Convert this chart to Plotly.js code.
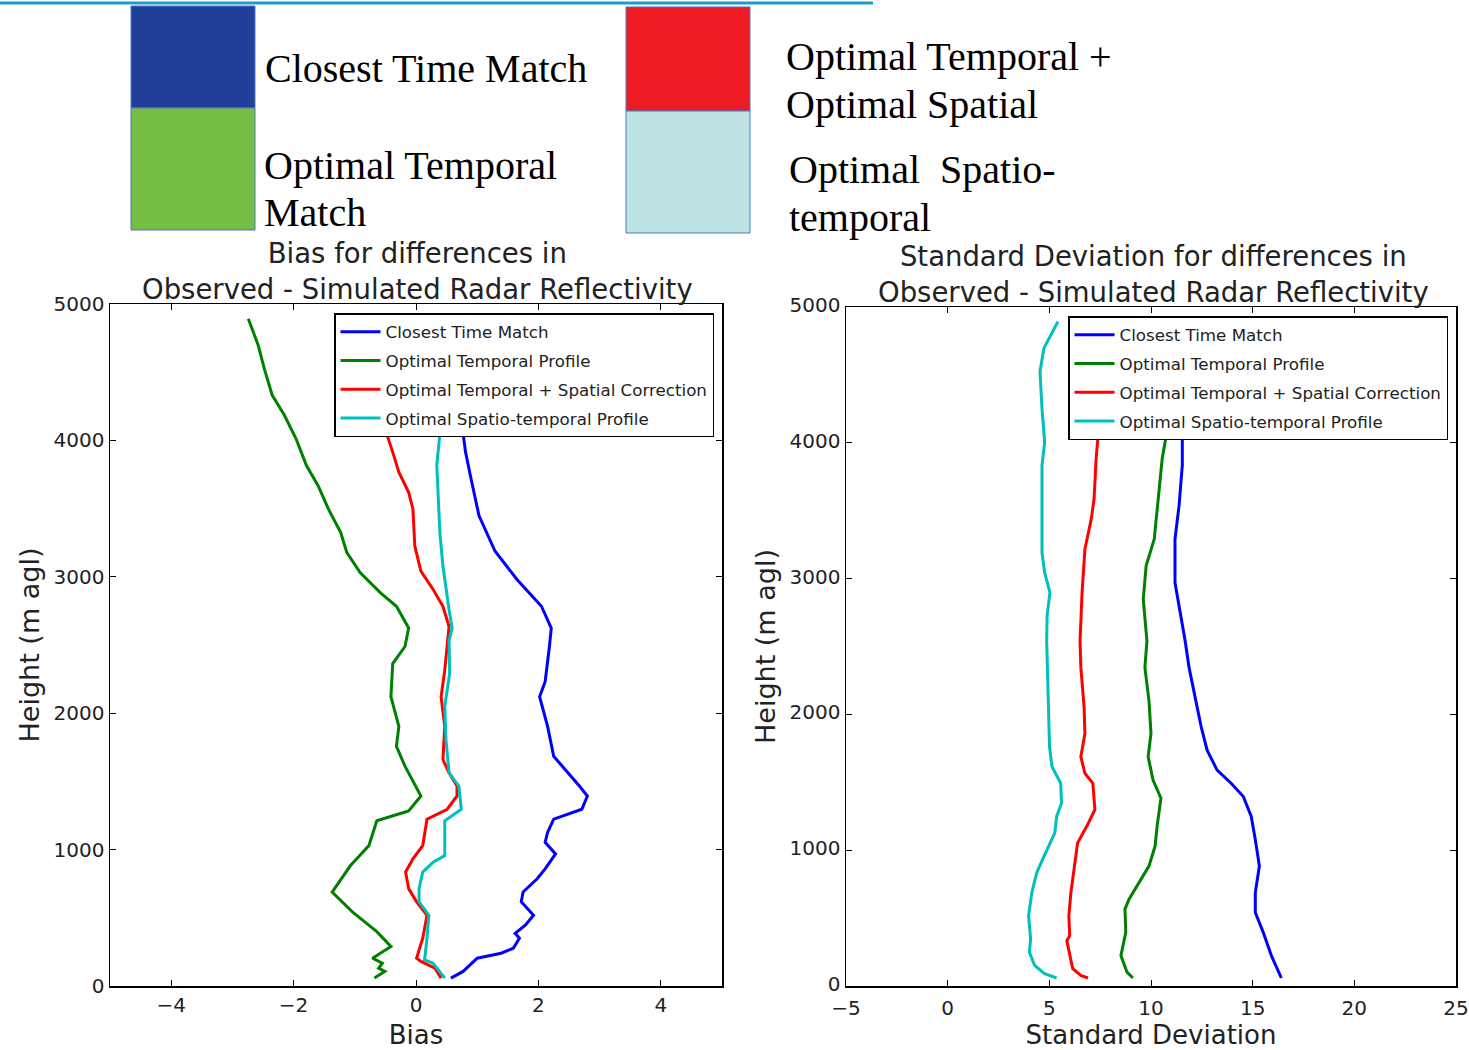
<!DOCTYPE html>
<html>
<head>
<meta charset="utf-8">
<script src="https://cdn.plot.ly/plotly-3.0.1.min.js"></script>
<style>html,body{margin:0;padding:0;background:#fff;}#chart{width:1469px;height:1050px;}</style>
</head>
<body>
<div id="chart"></div>
<script>
// ---------------- DATA ----------------
const seriesNames = ["Closest Time Match", "Optimal Temporal Profile", "Optimal Temporal + Spatial Correction", "Optimal Spatio-temporal Profile"];
const topLegendLabels = ["Closest Time Match", "Optimal Temporal", "Match", "Optimal Temporal +", "Optimal Spatial", "Optimal\u00a0 Spatio-", "temporal"];

// Bias panel (x = bias, y = height m agl)
const biasClosestH = [58,107,204,240,277,350,386,447,519,617,689,786,859,968,1053,1126,1223,1296,1393,1466,1684,1903,2121,2231,2489,2624,2784,2980,3189,3447,3717,3914,4049,4450,4890];
const biasClosest  = [0.57,0.77,1.0,1.39,1.59,1.69,1.62,1.79,1.92,1.72,1.75,1.98,2.11,2.28,2.11,2.15,2.25,2.71,2.80,2.67,2.25,2.15,2.02,2.11,2.18,2.21,2.05,1.65,1.29,1.03,0.90,0.81,0.77,0.72,0.68];

const biasTemporalH = [58,107,131,167,204,289,398,544,689,883,981,1029,1211,1284,1393,1612,1757,1903,2121,2364,2489,2624,2784,2882,3029,3177,3324,3496,3668,3816,4012,4184,4332,4528,4700,4892];
const biasTemporal  = [-0.68,-0.51,-0.61,-0.55,-0.71,-0.41,-0.64,-1.04,-1.37,-1.07,-0.87,-0.77,-0.64,-0.12,0.08,-0.18,-0.32,-0.28,-0.41,-0.38,-0.18,-0.12,-0.32,-0.58,-0.91,-1.13,-1.23,-1.43,-1.60,-1.79,-1.96,-2.15,-2.35,-2.48,-2.58,-2.74];

const biasSpatialH = [58,131,180,204,350,447,519,617,714,835,932,1029,1223,1296,1393,1466,1563,1660,1903,2121,2316,2636,2784,2907,3042,3226,3496,3619,3767,3914,4049,4450,4890];
const biasSpatial  = [0.41,0.31,0.08,0.01,0.11,0.15,0.18,0.01,-0.12,-0.17,-0.05,0.11,0.18,0.51,0.67,0.67,0.54,0.44,0.47,0.41,0.47,0.54,0.44,0.28,0.08,-0.02,-0.05,-0.12,-0.28,-0.38,-0.48,-0.62,-0.75];

const biasSpatioH = [58,167,192,350,519,617,714,835,908,956,1029,1211,1296,1466,1563,1806,2049,2291,2534,2624,2759,3079,3324,3570,3816,4049,4450,4890];
const biasSpatio  = [0.47,0.28,0.14,0.18,0.21,0.05,0.05,0.11,0.28,0.47,0.47,0.47,0.74,0.70,0.54,0.49,0.47,0.55,0.54,0.59,0.54,0.44,0.39,0.36,0.34,0.39,0.40,0.40];

// Standard deviation panel
const sdClosestH = [59,127,224,395,541,688,883,1078,1249,1395,1493,1590,1737,1907,2127,2346,2541,2724,2970,3291,3537,3833,4054,4450,4890];
const sdClosest  = [16.41,16.21,15.92,15.52,15.13,15.13,15.33,15.13,14.93,14.54,13.94,13.25,12.76,12.47,12.17,11.87,11.68,11.48,11.18,11.18,11.38,11.54,11.54,11.6,11.6];

const sdTemporalH = [59,102,224,298,395,566,639,883,1029,1176,1383,1517,1688,1859,2102,2346,2541,2847,3094,3291,3586,3882,4054,4450,4890];
const sdTemporal  = [9.11,8.82,8.52,8.62,8.76,8.72,8.92,9.90,10.20,10.30,10.49,10.10,9.86,10.00,9.90,9.70,9.80,9.62,9.76,10.16,10.36,10.55,10.75,11.0,11.2];

const sdSpatialH = [59,78,127,249,334,371,517,688,883,1054,1176,1298,1493,1566,1688,1859,2054,2346,2541,2897,3217,3438,3586,3882,4054,4450,4890];
const sdSpatial  = [6.90,6.55,6.15,5.96,5.86,6.00,5.96,6.06,6.25,6.39,6.84,7.24,7.14,6.75,6.55,6.75,6.71,6.55,6.51,6.61,6.75,7.06,7.20,7.30,7.40,7.5,7.6];

const sdSpatioH = [59,90,151,249,346,517,688,834,932,1127,1249,1346,1493,1615,1761,2005,2249,2541,2724,2897,3044,3192,3463,3833,4005,4251,4522,4695,4892];
const sdSpatio  = [5.36,4.77,4.28,4.02,4.08,3.98,4.14,4.38,4.67,5.27,5.36,5.60,5.56,5.13,5.01,4.97,4.93,4.87,4.89,5.03,4.77,4.64,4.64,4.64,4.77,4.64,4.54,4.73,5.42];

const biasTicks = [-4, -2, 0, 2, 4];
const sdTicks = [-5, 0, 5, 10, 15, 20, 25];
const heightTicks = [0, 1000, 2000, 3000, 4000, 5000];

// ---------------- STYLE ----------------
const W = 1469, H = 1050;
const px = v => v / W;
const py = v => 1 - v / H;
const lineColors = ["#0000ff", "#008000", "#ff0000", "#00bfbf"];
const sans = "DejaVu Sans, sans-serif";
const serif = "Liberation Serif, Times New Roman, serif";

const biasData = [[biasClosest, biasClosestH], [biasTemporal, biasTemporalH], [biasSpatial, biasSpatialH], [biasSpatio, biasSpatioH]];
const sdData = [[sdClosest, sdClosestH], [sdTemporal, sdTemporalH], [sdSpatial, sdSpatialH], [sdSpatio, sdSpatioH]];

const traces = [];
biasData.forEach((d, i) => traces.push({
  x: d[0], y: d[1], xaxis: "x", yaxis: "y", type: "scatter", mode: "lines",
  name: seriesNames[i], legend: "legend", legendgroup: "b" + i,
  line: { color: lineColors[i], width: 3 }, hoverinfo: "x+y"
}));
sdData.forEach((d, i) => traces.push({
  x: d[0], y: d[1], xaxis: "x2", yaxis: "y2", type: "scatter", mode: "lines",
  name: seriesNames[i], legend: "legend2", legendgroup: "s" + i,
  line: { color: lineColors[i], width: 3 }, hoverinfo: "x+y"
}));

const axisCommon = {
  showgrid: false, zeroline: false, showline: true, linecolor: "#000", linewidth: 1.5,
  mirror: "ticks", ticks: "inside", ticklen: 6, tickwidth: 1, tickcolor: "#000",
  tickfont: { family: sans, size: 20, color: "#222" }, automargin: false
};

const legendCommon = {
  bgcolor: "#fff", bordercolor: "#000", borderwidth: 1.5,
  font: { family: sans, size: 16.7, color: "#222" },
  xanchor: "left", yanchor: "top", tracegroupgap: 4, itemwidth: 40
};

const shapes = [
  { type: "line", xref: "paper", yref: "paper", x0: 0, x1: px(873), y0: py(3), y1: py(3), line: { color: "#1d9bd1", width: 3 } },
  { type: "rect", xref: "paper", yref: "paper", x0: px(131), x1: px(255), y0: py(108), y1: py(6), fillcolor: "#22409a", line: { color: "#4f79c0", width: 1 } },
  { type: "rect", xref: "paper", yref: "paper", x0: px(131), x1: px(255), y0: py(230), y1: py(108), fillcolor: "#76bd43", line: { color: "#4f79c0", width: 1 } },
  { type: "rect", xref: "paper", yref: "paper", x0: px(626), x1: px(750), y0: py(111), y1: py(7), fillcolor: "#ed1c24", line: { color: "#4f79c0", width: 1 } },
  { type: "rect", xref: "paper", yref: "paper", x0: px(626), x1: px(750), y0: py(233), y1: py(111), fillcolor: "#bde3e4", line: { color: "#4f79c0", width: 1 } }
];

const topPos = [[263, 68], [262, 165], [262, 212], [784, 57], [784, 105], [787, 170], [787, 218]];
const annotations = topLegendLabels.map((t, i) => ({
  text: t, xref: "paper", yref: "paper", x: px(topPos[i][0]), y: py(topPos[i][1]),
  xanchor: "left", yanchor: "middle", showarrow: false,
  font: { family: serif, size: 40, color: "#000" }
}));
annotations.push({
  text: "Bias for differences in<br>Observed - Simulated Radar Reflectivity",
  xref: "paper", yref: "paper", x: px(418), y: py(271), xanchor: "center", yanchor: "middle",
  showarrow: false, font: { family: sans, size: 27.5, color: "#222" }
});
annotations.push({
  text: "Standard Deviation for differences in<br>Observed - Simulated Radar Reflectivity",
  xref: "paper", yref: "paper", x: px(1153), y: py(274), xanchor: "center", yanchor: "middle",
  showarrow: false, font: { family: sans, size: 27.5, color: "#222" }
});

const layout = {
  width: W, height: H,
  margin: { l: 0, r: 0, t: 0, b: 0 },
  paper_bgcolor: "#fff", plot_bgcolor: "#fff",
  showlegend: true,
  xaxis: Object.assign({}, axisCommon, {
    domain: [px(110), px(722)], range: [-5, 5], tickmode: "array", tickvals: biasTicks, anchor: "y",
    title: { text: "Bias", font: { family: sans, size: 26, color: "#222" }, standoff: 12 }
  }),
  yaxis: Object.assign({}, axisCommon, {
    domain: [py(986), py(304)], range: [0, 5000], tickmode: "array", tickvals: heightTicks, anchor: "x",
    title: { text: "Height (m agl)", font: { family: sans, size: 27, color: "#222" }, standoff: 6 }
  }),
  xaxis2: Object.assign({}, axisCommon, {
    domain: [px(846), px(1456)], range: [-5, 25], tickmode: "array", tickvals: sdTicks, anchor: "y2",
    ticklabelstandoff: 3,
    title: { text: "Standard Deviation", font: { family: sans, size: 26, color: "#222" }, standoff: 10 }
  }),
  yaxis2: Object.assign({}, axisCommon, {
    domain: [py(986), py(307)], range: [0, 5000], tickmode: "array", tickvals: heightTicks, anchor: "x2",
    ticklabelshift: -2,
    title: { text: "Height (m agl)", font: { family: sans, size: 27, color: "#222" }, standoff: 6 }
  }),
  legend: Object.assign({}, legendCommon, { x: px(334), y: py(313) }),
  legend2: Object.assign({}, legendCommon, { x: px(1068), y: py(316) }),
  shapes: shapes,
  annotations: annotations
};

Plotly.newPlot("chart", traces, layout, { displayModeBar: false, staticPlot: true });
</script>
</body>
</html>
